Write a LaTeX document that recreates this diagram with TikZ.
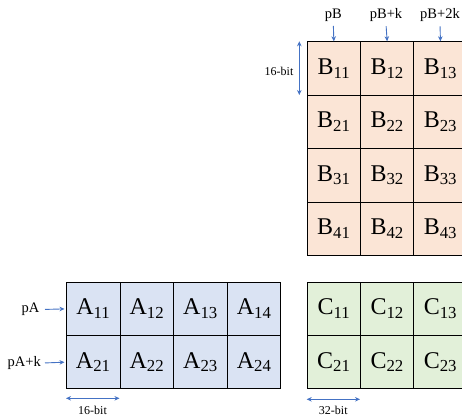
\documentclass[tikz,border=0pt]{standalone}
\usepackage{fontspec}
\setmainfont{Liberation Serif}
\usetikzlibrary{arrows.meta}
\definecolor{bfill}{HTML}{FBE5D6}
\definecolor{afill}{HTML}{DAE3F3}
\definecolor{cfill}{HTML}{E2F0D9}
\definecolor{arr}{HTML}{4472C4}
\tikzset{
  cell/.style={draw=black, line width=1pt, minimum width=53.3pt, minimum height=53.4pt,
    inner sep=0pt, anchor=north west, font=\fontsize{24}{24}\selectfont},
  lbl/.style={font=\fontsize{14.5}{15}\selectfont, inner sep=2pt},
  bitlbl/.style={font=\fontsize{12}{13}\selectfont, inner sep=1pt},
  ptr/.style={draw=arr, line width=0.9pt, -{Stealth[length=5pt,width=4.5pt]}},
  dim/.style={draw=arr, line width=0.9pt, {Stealth[length=5pt,width=4.5pt]}-{Stealth[length=5pt,width=4.5pt]}}
}
\begin{document}
\begin{tikzpicture}[x=1pt,y=-1pt]
\clip (0,0) rectangle (462,418);
\fill[white] (0,0) rectangle (462,418);
% B matrix
\foreach \r in {1,...,4}
  \foreach \c in {1,2,3}
    \node[cell, fill=bfill] (B\r\c) at ({306.7+(\c-1)*53.3},{41.3+(\r-1)*53.4}) {B\textsubscript{\r\c}};
% A matrix
\foreach \r in {1,2}
  \foreach \c in {1,...,4}
    \node[cell, fill=afill, minimum width=53.6pt, minimum height=53.3pt] (A\r\c) at ({66+(\c-1)*53.6},{281.7+(\r-1)*53.3}) {A\textsubscript{\r\c}};
% C matrix
\foreach \r in {1,2}
  \foreach \c in {1,2,3}
    \node[cell, fill=cfill, minimum height=53.3pt] (C\r\c) at ({306.7+(\c-1)*53.3},{281.7+(\r-1)*53.3}) {C\textsubscript{\r\c}};
% pointer labels B
\node[lbl] (pB) at (333.3,15.5) {pB};
\node[lbl] (pBk) at (386,15.5) {pB+k};
\node[lbl] (pB2k) at (440,15.5) {pB+2k};
\draw[ptr, shorten <=2pt] (pB.south) -- (B11.north);
\draw[ptr, shorten <=2pt] (pBk.south) -- (B12.north);
\draw[ptr, shorten <=2pt] (pB2k.south) -- (B13.north);
% pointer labels A
\node[lbl, anchor=east] (pA) at (41.5,309.5) {pA};
\node[lbl, anchor=east] (pAk) at (43,363) {pA+k};
\draw[ptr, shorten <=3.5pt, shorten >=1.5pt] (pA.east) -- (A11.west);
\draw[ptr, shorten <=2pt, shorten >=1.5pt] (pAk.east) -- (A21.west);
% dimension arrows
\coordinate (vb1) at (299.3,41.3);
\coordinate (vb2) at (299.3,95);
\draw[dim] (vb1) -- (vb2);
\node[bitlbl] (vbl) at (279,71) {16-bit};
\coordinate (ha1) at (66,398.3);
\coordinate (ha2) at (119.5,398.3);
\draw[dim] (ha1) -- (ha2);
\node[bitlbl] (hal) at (92.5,410.5) {16-bit};
\coordinate (hc1) at (306.7,399.3);
\coordinate (hc2) at (360,399.3);
\draw[dim] (hc1) -- (hc2);
\node[bitlbl] (hcl) at (333.3,410.5) {32-bit};
\end{tikzpicture}
\end{document}
